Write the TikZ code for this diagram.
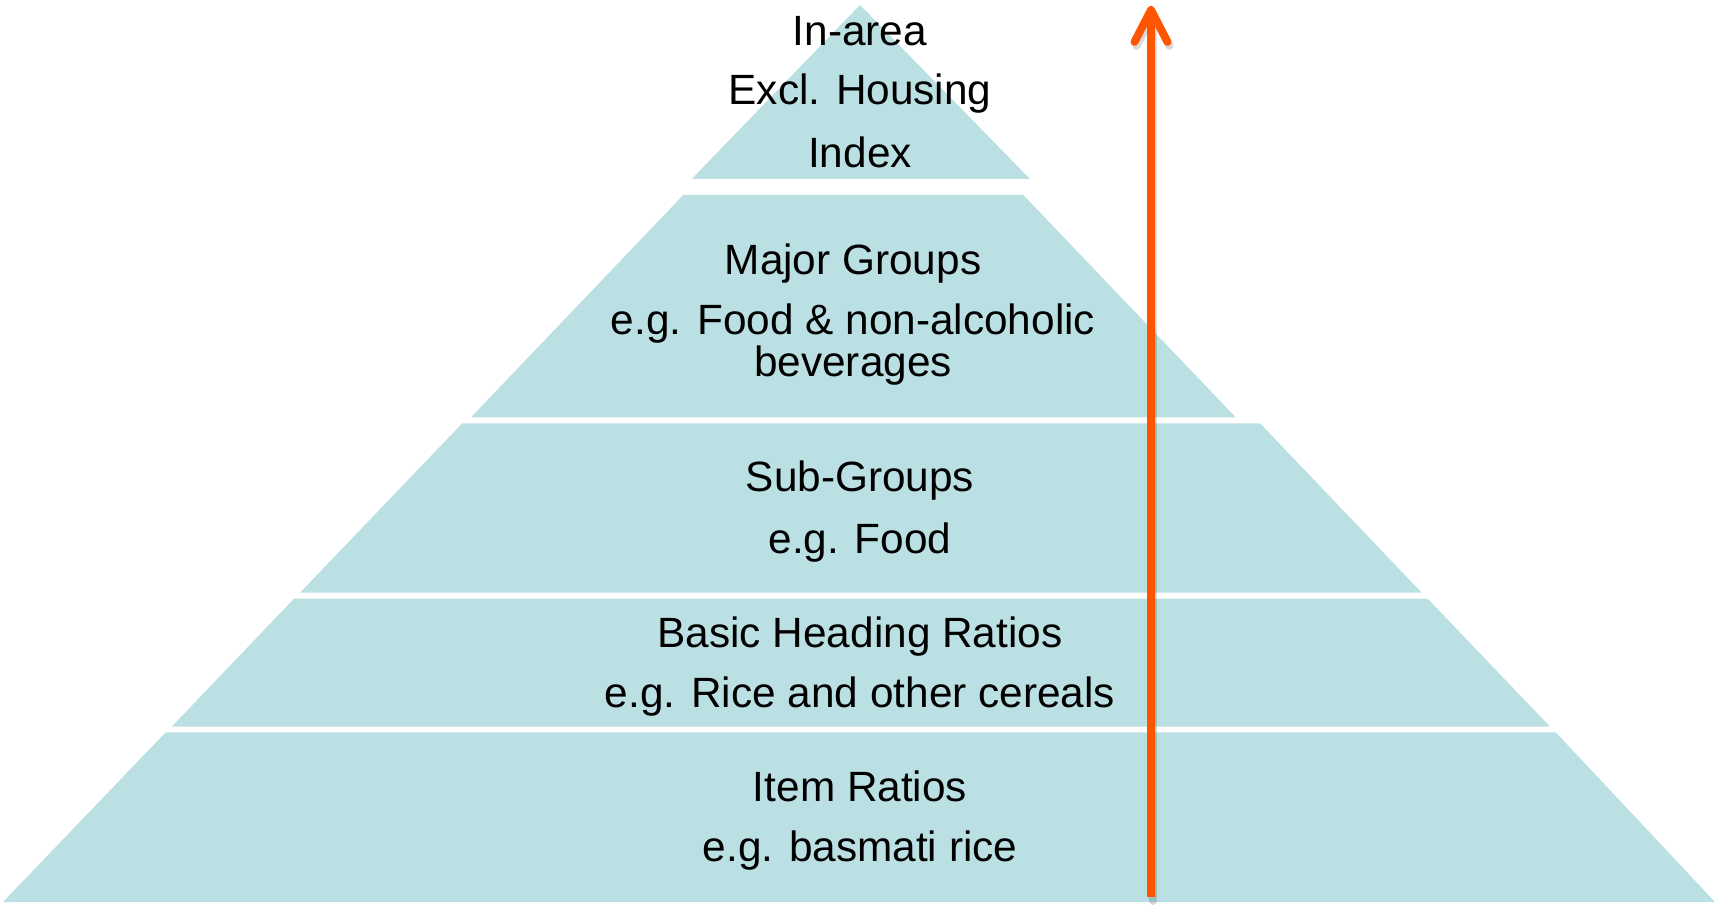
\documentclass[tikz,border=0pt]{standalone}
\usepackage{fontspec}
\setmainfont{Liberation Sans}
\usetikzlibrary{arrows.meta}
\definecolor{pyrblau}{RGB}{187,224,227}
\definecolor{pfeilorange}{RGB}{255,85,0}

\begin{document}
\begin{tikzpicture}[
x=0.2mm, y=-0.2mm,
stufe/.style={fill=pyrblau},
txt/.style={anchor=base, inner sep=0pt, font=\fontsize{24.1}{29}\selectfont},
>={Straight Barb[length=6.4mm, width=6.6mm, round]}   %Pfeilspitze
]
\def\xm{860}
\def\xg{853}

% Rahmen
\useasboundingbox (0,0) rectangle (1715,908);

% Stufe 1 (Spitze)
\fill[stufe] (\xm,5) -- (1030,179) -- (691.7,179) -- cycle;
% Stufe 2
\fill[stufe] (683.3,195) -- (1023.3,195) -- (1235.7,417.3) -- (471,417.3) -- cycle;
% Stufe 3
\fill[stufe] (462.3,423.3) -- (1260,423.3) -- (1421.7,592.7) -- (300,592.7) -- cycle;
% Stufe 4
\fill[stufe] (294,598.7) -- (1427.7,598.7) -- (1550,726.7) -- (171.7,726.7) -- cycle;
% Stufe 5 (Basis)
\fill[stufe] (165.7,732.3) -- (1555.7,732.3) -- (1715,902) -- (3,902) -- cycle;

% Beschriftung
\node[txt] (inarea) at (\xm,46) {In-area};
\node[txt] (exclh) at (\xm,105) {Excl. Housing};
\node[txt] (index) at (\xm,168) {Index};

\node[txt] (major) at (\xg,275) {Major Groups};
\node[txt] (majorbsp) at (\xg,335) {e.g. Food \& non-alcoholic};
\node[txt] (majorbsp2) at (\xg,377) {beverages};

\node[txt] (sub) at (\xm,492) {Sub-Groups};
\node[txt] (subbsp) at (\xm,553) {e.g. Food};

\node[txt] (basic) at (\xm,647) {Basic Heading Ratios};
\node[txt] (basicbsp) at (\xm,707) {e.g. Rice and other cereals};

\node[txt] (item) at (\xm,801) {Item Ratios};
\node[txt] (itembsp) at (\xm,861) {e.g. basmati rice};

% Pfeil nach oben
\coordinate (fuss) at (1151,897);
\coordinate (kopf) at (1151,6);
\draw[->, black, opacity=.15, line width=4.5pt, line cap=round] ([shift={(2,4)}]fuss) -- ([shift={(2,4)}]kopf);
\draw[->, pfeilorange, line width=4.5pt] (fuss) -- (kopf);
\end{tikzpicture}
\end{document}
